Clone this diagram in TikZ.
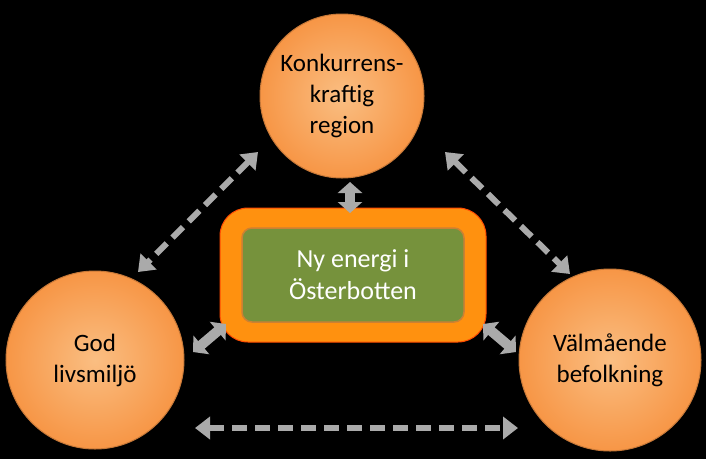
\documentclass[tikz,border=0pt]{standalone}
\usepackage{fontspec}
\setmainfont{Carlito}
\usetikzlibrary{arrows.meta}
\definecolor{org}{RGB}{247,150,70}
\definecolor{orgl}{RGB}{250,190,130}
\definecolor{boxo}{RGB}{255,145,15}
\definecolor{grn}{RGB}{118,146,60}
\definecolor{gry}{RGB}{170,170,170}
\begin{document}
\begin{tikzpicture}[x=1pt,y=-1pt,
  circ/.style={circle,draw=org!80!black,line width=1pt,inner color=orgl,outer color=org,text=black,font=\fontsize{25}{31}\selectfont,align=center},
  dasharrow/.style={draw=gry,line width=6pt,dash pattern=on 15pt off 8pt,{Triangle[length=15pt,width=22pt]}-{Triangle[length=15pt,width=22pt]}},
  fatarrow/.style={draw=gry,line width=10pt,{Triangle[length=11pt,width=24pt]}-{Triangle[length=11pt,width=24pt]}}]
\useasboundingbox[fill=black] (0,0) rectangle (706,459);
\node[circ,minimum size=164pt] (top) at (342,96) {Konkurrens-\\kraftig\\region};
\node[circ,minimum size=178pt] (left) at (95,360) {God\\livsmiljö};
\node[circ,minimum size=182pt] (right) at (610,360) {Välmående\\befolkning};
\node[draw=orange!60!red,line width=1pt,fill=boxo,rounded corners=28pt,minimum width=266pt,minimum height=134pt] (outer) at (353,275) {};
\node[draw=brown!80!orange,line width=1.5pt,fill=grn,rounded corners=10pt,minimum width=222pt,minimum height=94pt,text=white,font=\fontsize{26}{32}\selectfont,align=center] (inner) at (353,275) {Ny energi i\\Österbotten};
\coordinate (a1) at (258,152); \coordinate (a2) at (138,272);
\coordinate (b1) at (445,152); \coordinate (b2) at (570,274);
\coordinate (c1) at (195,428); \coordinate (c2) at (518,428);
\coordinate (t1) at (350,182); \coordinate (t2) at (350,213);
\coordinate (l1) at (193,352); \coordinate (l2) at (226,324);
\coordinate (r1) at (483,324); \coordinate (r2) at (516,352);
\draw[dasharrow] (a1) -- (a2);
\draw[dasharrow] (b1) -- (b2);
\draw[dasharrow] (c1) -- (c2);
\draw[fatarrow] (t1) -- (t2);
\draw[fatarrow] (l1) -- (l2);
\draw[fatarrow] (r1) -- (r2);
\end{tikzpicture}
\end{document}
